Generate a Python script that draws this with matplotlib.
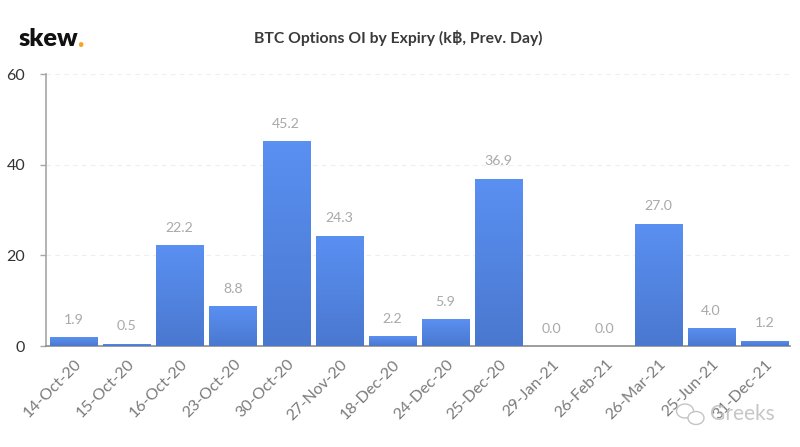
import matplotlib
matplotlib.use("Agg")
import matplotlib.pyplot as plt
from matplotlib.patches import Ellipse
import numpy as np

plt.rcParams['font.family'] = ['Lato', 'DejaVu Sans']

expiries = ['14-Oct-20', '15-Oct-20', '16-Oct-20', '23-Oct-20', '30-Oct-20', '27-Nov-20', '18-Dec-20',
            '24-Dec-20', '25-Dec-20', '29-Jan-21', '26-Feb-21', '26-Mar-21', '25-Jun-21', '31-Dec-21']
oi = [1.9, 0.5, 22.2, 8.8, 45.2, 24.3, 2.2, 5.9, 36.9, 0.0, 0.0, 27.0, 4.0, 1.2]
yticks = [0, 20, 40, 60]

W, H = 800, 447
fig = plt.figure(figsize=(W / 100, H / 100), dpi=100)
ax = fig.add_axes([46 / W, 1 - 346 / H, 744 / W, 272 / H])

bars = ax.bar(range(len(oi)), oi, width=0.903, color='#5588e8', zorder=2)

# vertical gradient on every bar, light at top
grad = np.linspace(0, 1, 64).reshape(-1, 1)
cmap = matplotlib.colors.LinearSegmentedColormap.from_list('bar', ['#5a90f2', '#4a78cf'])
for b in bars:
    if b.get_height() <= 0:
        continue
    im = ax.imshow(grad, extent=[b.get_x(), b.get_x() + b.get_width(), 0, b.get_height()],
                   cmap=cmap, aspect='auto', zorder=3, origin='upper')
    im.set_clip_path(b)

for i, v in enumerate(oi):
    ax.annotate(f'{v:.1f}', (i, v), xytext=(-0.5, 12.5), textcoords='offset points',
                ha='center', va='center', fontsize=10.2, color='#a9a9a9')

ax.set_xlim(-0.526, 13.472)
ax.set_ylim(0, 60)
ax.set_yticks(yticks)
ax.yaxis.grid(True, color='#eeeeee', linestyle=(0, (4, 4)), linewidth=0.8, zorder=0)
ax.set_axisbelow(True)
ax.set_xticks(range(len(expiries)))
ax.set_xticklabels(expiries, rotation=45, ha='right', rotation_mode='anchor', fontsize=11.5, color='#7b7b7b')
ax.tick_params(axis='x', length=0, pad=8)
ax.tick_params(axis='y', length=4, width=1, color='#a6a6a6', labelsize=11.5, labelcolor='#333333', pad=11)
for s in ['top', 'right']:
    ax.spines[s].set_visible(False)
ax.spines['left'].set_color('#a6a6a6')
ax.spines['bottom'].set_color('#8c8c8c')
ax.spines['left'].set_linewidth(1.2)
ax.spines['bottom'].set_linewidth(1.2)

fig.text(398 / W, 1 - 38 / H, 'BTC Options OI by Expiry (k\u0e3f, Prev. Day)', ha='center', va='center',
         fontsize=11.3, fontweight='bold', color='#3a3a3a')

# logo
fig.text(19 / W, 1 - 39 / H, 'skew', ha='left', va='center', fontsize=18.2, fontweight='heavy', color='#111111')
fig.text(77 / W, 1 - 39 / H, '.', ha='left', va='center', fontsize=19, fontweight='heavy', color='#f5a623')

# watermark
fig.text(710 / W, 1 - 414 / H, 'Greeks', ha='left', va='center', fontsize=15, color='#c0c0c0', alpha=0.9)
over = fig.add_axes([0, 0, 1, 1])
over.set_xlim(0, W)
over.set_ylim(H, 0)
over.axis('off')
over.patch.set_alpha(0)
over.add_patch(Ellipse((685, 411), 17, 14, fc='none', ec='#c4c4c4', lw=1))
over.add_patch(Ellipse((696, 418), 16, 13, fc='white', ec='#c4c4c4', lw=1))

fig.savefig('out.png', dpi=100)
